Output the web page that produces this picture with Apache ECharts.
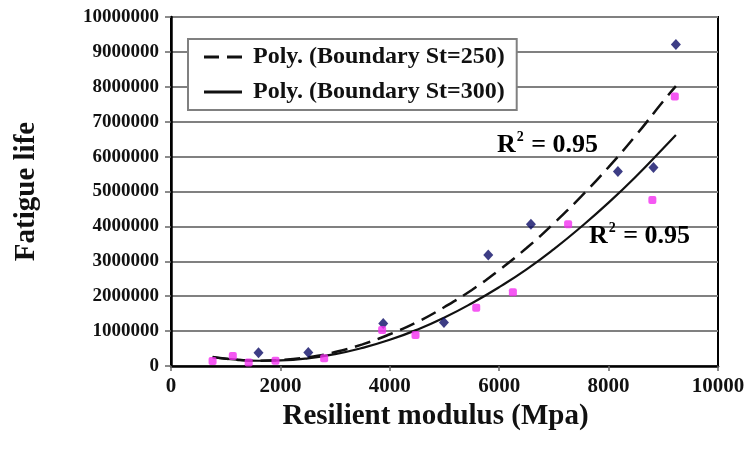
<!DOCTYPE html>
<html>
<head>
<meta charset="utf-8">
<script src="https://cdn.jsdelivr.net/npm/echarts@6/dist/echarts.min.js"></script>
<style>
html,body{margin:0;padding:0;background:#fff;}
#chart{width:756px;height:449px;}
</style>
</head>
<body>
<div id="chart"></div>
<script>
// Data
const blueX = [1600, 2510, 3880, 4990, 5800, 6580, 8170, 8820, 9230];
const blueY = [380000, 390000, 1220000, 1250000, 3180000, 4060000, 5570000, 5690000, 9210000];
const pinkX = [760, 1130, 1420, 1910, 2800, 3860, 4470, 5580, 6250, 7260, 8800, 9210];
const pinkY = [140000, 290000, 100000, 150000, 220000, 1030000, 890000, 1670000, 2110000, 4060000, 4760000, 7720000];
const trendX = [760, 1200, 1600, 2000, 2500, 3000, 3500, 4000, 4500, 5000, 5500, 6000, 6500, 7000, 7500, 8000, 8500, 9000, 9230];
const trend250Y = [260000, 180000, 150000, 170000, 250000, 400000, 620000, 910000, 1260000, 1690000, 2180000, 2750000, 3380000, 4090000, 4860000, 5700000, 6610000, 7590000, 8020000];
const trend300Y = [250000, 180000, 150000, 160000, 220000, 340000, 520000, 750000, 1040000, 1390000, 1800000, 2260000, 2770000, 3350000, 3990000, 4680000, 5430000, 6240000, 6620000];
const seriesNames = ['Poly. (Boundary St=250)', 'Poly. (Boundary St=300)'];
const r2Text = 'R';
const r2Value = ' = 0.95';

const FONT = '"Liberation Serif", "Times New Roman", serif';
const zip = (xs, ys) => xs.map((x, i) => [x, ys[i]]);

const chart = echarts.init(document.getElementById('chart'), null, {renderer: 'canvas'});
const r2Rich = {
  b: {fontFamily: FONT, fontWeight: 'bold', fontSize: 26, color: '#111', lineHeight: 30},
  s: {fontFamily: FONT, fontWeight: 'bold', fontSize: 14, color: '#111', verticalAlign: 'top', lineHeight: 30, padding: [0, 1, 0, 1]}
};
chart.setOption({
  animation: false,
  backgroundColor: '#fff',
  grid: {left: 171, right: 38, top: 17, bottom: 83, show: true, borderColor: '#000', borderWidth: 2, containLabel: false},
  legend: {
    data: [
      {name: seriesNames[0], icon: 'path://M0,0h15v3h-15z M23,0h15v3h-15z'},
      {name: seriesNames[1], icon: 'path://M0,0h38v3h-38z'}
    ],
    orient: 'vertical',
    left: 188, top: 39,
    itemWidth: 38, itemHeight: 3, itemGap: 11,
    padding: [6, 12, 6, 16],
    backgroundColor: '#fff',
    borderColor: '#808080', borderWidth: 2,
    itemStyle: {color: '#111', borderWidth: 0},
    lineStyle: {width: 0},
    textStyle: {fontFamily: FONT, fontWeight: 'bold', fontSize: 24, color: '#111', padding: [0, 0, 0, 6]}
  },
  xAxis: {
    type: 'value', min: 0, max: 10000, interval: 2000,
    name: 'Resilient modulus (Mpa)', nameLocation: 'middle', nameGap: 26,
    nameTextStyle: {fontFamily: FONT, fontWeight: 'bold', fontSize: 29, color: '#111', padding: [0, 18, 0, 0]},
    axisLine: {show: true, onZero: false, lineStyle: {color: '#000', width: 2.5}},
    axisTick: {show: true, length: 5, lineStyle: {color: '#666', width: 1.5}},
    axisLabel: {fontFamily: FONT, fontWeight: 'bold', fontSize: 21, color: '#111', margin: 10, formatter: v => String(v)},
    splitLine: {show: false}
  },
  yAxis: {
    type: 'value', min: 0, max: 10000000, interval: 1000000,
    name: 'Fatigue life', nameLocation: 'middle', nameGap: 130,
    nameTextStyle: {fontFamily: FONT, fontWeight: 'bold', fontSize: 29, color: '#111'},
    axisLine: {show: true, onZero: false, lineStyle: {color: '#000', width: 2.5}},
    axisTick: {show: true, length: 6, lineStyle: {color: '#666', width: 1.5}},
    axisLabel: {fontFamily: FONT, fontWeight: 'bold', fontSize: 19, color: '#111', margin: 12, formatter: v => String(v)},
    splitLine: {show: true, lineStyle: {color: '#808080', width: 2}}
  },
  series: [
    {
      name: seriesNames[0], type: 'line', smooth: true, symbol: 'none', z: 3,
      data: zip(trendX, trend250Y),
      lineStyle: {color: '#111', width: 2.5, type: [16, 8]},
      itemStyle: {color: '#111'}
    },
    {
      name: seriesNames[1], type: 'line', smooth: true, symbol: 'none', z: 3,
      data: zip(trendX, trend300Y),
      lineStyle: {color: '#111', width: 2.2, type: 'solid'},
      itemStyle: {color: '#111'}
    },
    {
      name: 'St=250', type: 'scatter', symbol: 'diamond', symbolSize: [10, 11], z: 5,
      data: zip(blueX, blueY),
      itemStyle: {color: '#0c0c66'}
    },
    {
      name: 'St=300', type: 'scatter', symbol: 'roundRect', symbolSize: 8, z: 5,
      data: zip(pinkX, pinkY),
      itemStyle: {color: '#f22ef0'}
    }
  ],
  graphic: [
    {type: 'text', left: 497, top: 130, z: 10,
     style: {text: '{b|' + r2Text + '}{s|2}{b|' + r2Value + '}', rich: r2Rich}},
    {type: 'text', left: 589, top: 221, z: 10,
     style: {text: '{b|' + r2Text + '}{s|2}{b|' + r2Value + '}', rich: r2Rich}}
  ]
});
</script>
</body>
</html>
